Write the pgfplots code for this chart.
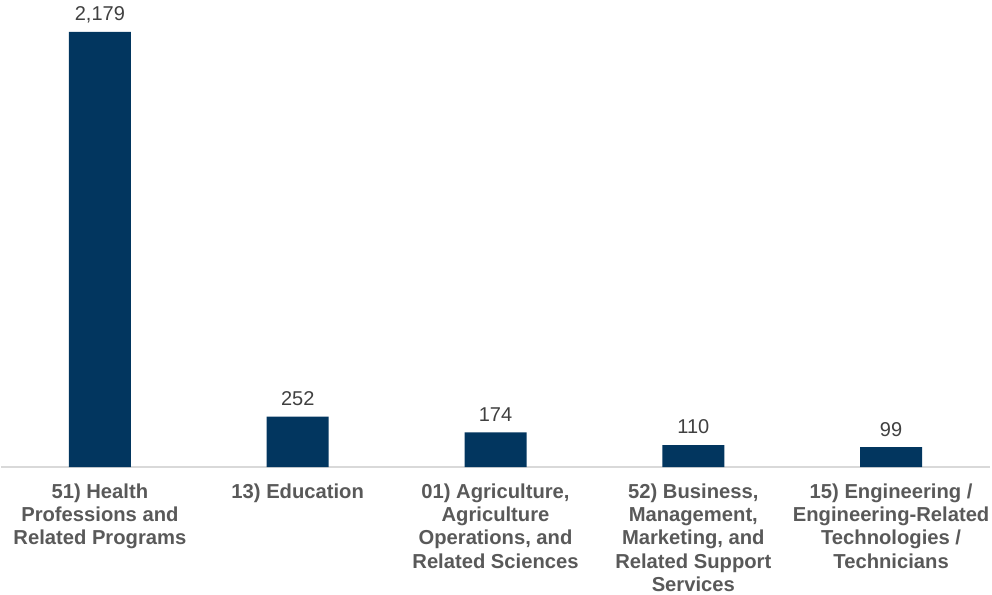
\documentclass[border=0pt]{standalone}
\usepackage{pgfplots}
\pgfplotsset{compat=1.18}
\usepackage{fontspec}
\setmainfont{Liberation Sans}
\definecolor{barblue}{HTML}{02365F}
\definecolor{labgray}{HTML}{595959}
\definecolor{valgray}{HTML}{404040}
\definecolor{axgray}{HTML}{D9D9D9}
\begin{document}
\begin{tikzpicture}
\useasboundingbox (0,0) rectangle (992pt,594pt);
\begin{axis}[
  at={(1pt,127pt)}, anchor=south west,
  scale only axis, width=989pt, height=435pt,
  xmin=-0.5, xmax=4.5, ymin=0, ymax=2179,
  axis y line=none,
  axis x line=bottom,
  x axis line style={draw=axgray, line width=1.5pt, -},
  xtick=data,
  major tick length=0pt,
  xticklabels={{51) Health\\Professions and\\Related Programs},
               {13) Education},
               {01) Agriculture,\\Agriculture\\Operations, and\\Related Sciences},
               {52) Business,\\Management,\\Marketing, and\\Related Support\\Services},
               {15) Engineering /\\Engineering-Related\\Technologies /\\Technicians}},
  xticklabel style={align=center, inner sep=0pt, font=\fontsize{20.2}{23.4}\selectfont\bfseries, text=labgray, anchor=north, yshift=-16.3pt},
  ybar, bar width=62pt,
  clip=false,
  nodes near coords={\pgfmathprintnumber[fixed,precision=0,1000 sep={,},assume math mode=true]{\pgfplotspointmeta}},
  every node near coord/.append style={anchor=south, inner sep=0pt, text depth=0pt, yshift=11pt, font=\fontsize{20}{24}\selectfont, text=valgray},
]
\addplot[fill=barblue, draw=none] coordinates {(0,2179) (1,252) (2,174) (3,110) (4,99)};
\end{axis}
\end{tikzpicture}
\end{document}
